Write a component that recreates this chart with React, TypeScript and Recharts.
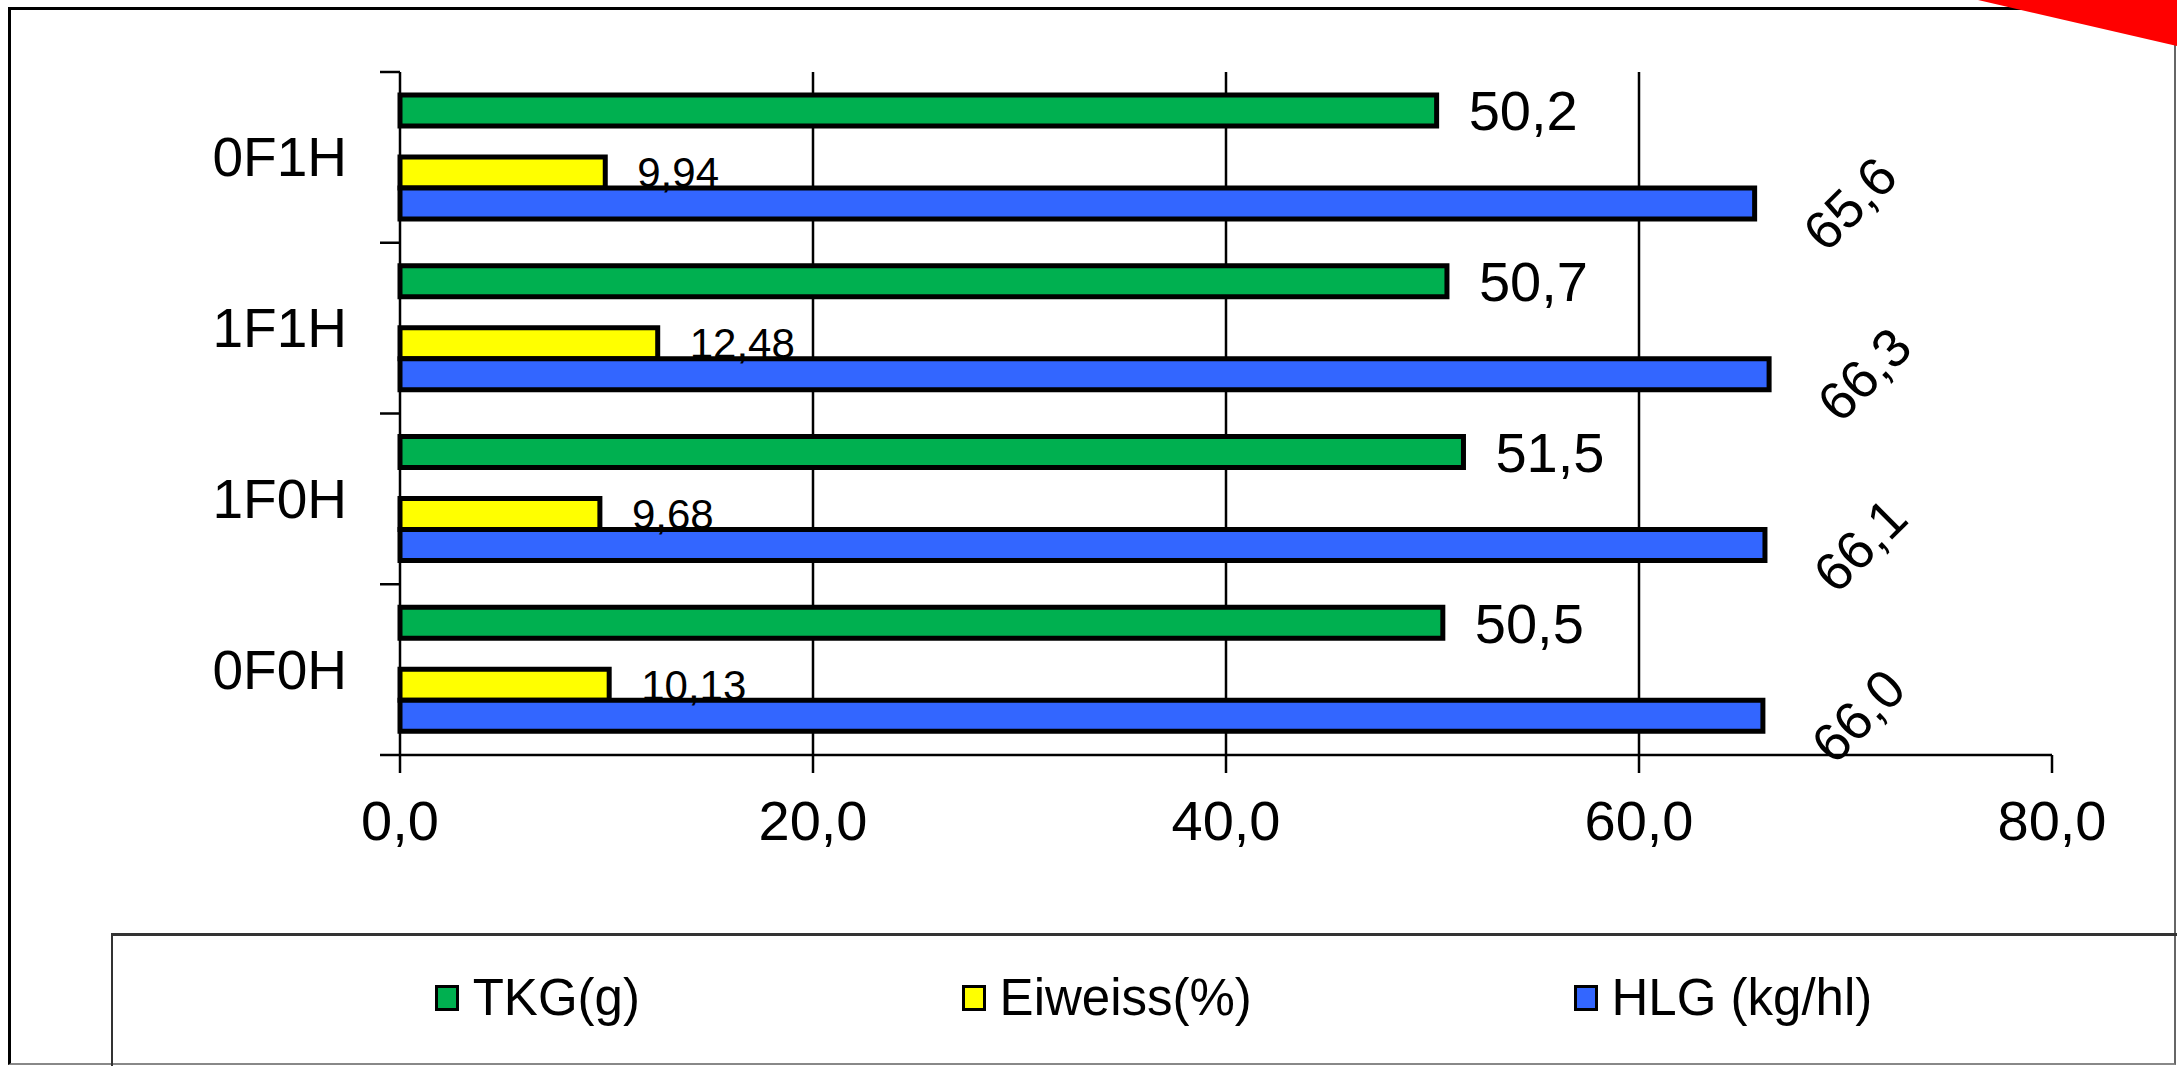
import React from 'react'
import { Bar, BarChart, CartesianGrid, LabelList, XAxis, YAxis } from 'recharts'

const categories = ['0F1H', '1F1H', '1F0H', '0F0H']
const tkg = [50.2, 50.7, 51.5, 50.5]
const eiweiss = [9.94, 12.48, 9.68, 10.13]
const hlg = [65.6, 66.3, 66.1, 66.0]
const xTicks = [0, 20, 40, 60, 80]
const gridX = [20, 40, 60]

const series = [
  { key: 'tkg', name: 'TKG(g)', color: '#00B050' },
  { key: 'eiweiss', name: 'Eiweiss(%)', color: '#FFFF00' },
  { key: 'hlg', name: 'HLG (kg/hl)', color: '#3366FF' },
]

const rows = categories.map((name, i) => ({ name, tkg: tkg[i], eiweiss: eiweiss[i], hlg: hlg[i] }))

const FONT = '"Liberation Sans", Arial, sans-serif'
const W = 2177
const H = 1066
const Y_TICK = 20
const Y_MARGIN = 33

const fmt = (digits: number) => (v: any) => Number(v).toFixed(digits).replace('.', ',')

function CategoryTick(props: any) {
  const { x, y, payload, index } = props
  const axisX = x + Y_TICK + Y_MARGIN
  const half = payload.offset ?? 85
  const last = index === categories.length - 1
  return (
    <g>
      <line x1={axisX - Y_TICK} x2={axisX} y1={y - half} y2={y - half} stroke="#000" strokeWidth={2.5} />
      {last && <line x1={axisX - Y_TICK} x2={axisX} y1={y + half} y2={y + half} stroke="#000" strokeWidth={2.5} />}
      <text x={x} y={y} textAnchor="end" dominantBaseline="central" fontSize={55} fontFamily={FONT} fill="#000">
        {payload.value}
      </text>
    </g>
  )
}

function RotatedLabel(props: any) {
  const { x, y, width, height, value } = props
  const cx = x + width + 95
  const cy = y + height / 2
  return (
    <text
      x={cx}
      y={cy}
      transform={`rotate(-45 ${cx} ${cy})`}
      textAnchor="middle"
      dominantBaseline="central"
      fontSize={54}
      fontFamily={FONT}
      fill="#000"
    >
      {fmt(1)(value)}
    </text>
  )
}

export default function App() {
  return (
    <div style={{ position: 'absolute', left: 0, top: 0, width: W, height: H, overflow: 'hidden', background: '#fff', fontFamily: FONT }}>
      <div
        style={{
          position: 'absolute',
          left: 8,
          top: 7,
          width: 2168,
          height: 1058,
          boxSizing: 'border-box',
          borderTop: '3px solid #000',
          borderLeft: '3px solid #000',
          borderRight: '2px solid #666',
          borderBottom: '2px solid #888',
        }}
      />
      <div style={{ position: 'absolute', left: 0, top: 0 }}>
        <BarChart
          width={W}
          height={H}
          data={rows}
          layout="vertical"
          margin={{ top: 72, right: 125, bottom: 251, left: 100 }}
          barCategoryGap={23}
          barGap={0}
        >
          <CartesianGrid horizontal={false} verticalValues={gridX} stroke="#000" strokeWidth={2.5} />
          <XAxis
            type="number"
            domain={[0, 80]}
            ticks={xTicks}
            tickFormatter={fmt(1)}
            height={60}
            tickSize={18}
            tickMargin={27}
            axisLine={{ stroke: '#000', strokeWidth: 2.5 }}
            tickLine={{ stroke: '#000', strokeWidth: 2.5 }}
            tick={{ fontSize: 56, fill: '#000', fontFamily: FONT }}
          />
          <YAxis
            type="category"
            dataKey="name"
            width={300}
            tickSize={Y_TICK}
            tickMargin={Y_MARGIN}
            tickLine={false}
            axisLine={{ stroke: '#000', strokeWidth: 2.5 }}
            tick={<CategoryTick />}
          />
          <Bar dataKey="tkg" fill="#00B050" stroke="#000" strokeWidth={5} isAnimationActive={false}>
            <LabelList dataKey="tkg" position="right" offset={32} formatter={fmt(1)} fontSize={56} fontFamily={FONT} fill="#000" />
          </Bar>
          {/* empty slot between TKG and the two lower series */}
          <Bar dataKey="spacer" legendType="none" isAnimationActive={false} />
          <Bar dataKey="eiweiss" fill="#FFFF00" stroke="#000" strokeWidth={5} isAnimationActive={false}>
            <LabelList dataKey="eiweiss" position="right" offset={32} formatter={fmt(2)} fontSize={42} fontFamily={FONT} fill="#000" />
          </Bar>
          <Bar dataKey="hlg" fill="#3366FF" stroke="#000" strokeWidth={5} isAnimationActive={false}>
            <LabelList dataKey="hlg" content={<RotatedLabel />} />
          </Bar>
        </BarChart>
      </div>
      <div
        style={{
          position: 'absolute',
          left: 111,
          top: 933,
          width: 2083,
          height: 200,
          boxSizing: 'border-box',
          borderTop: '3px solid #333',
          borderLeft: '2px solid #333',
          display: 'flex',
          justifyContent: 'space-evenly',
          alignItems: 'flex-start',
          paddingTop: 36,
        }}
      >
        {series.map((s) => (
          <div key={s.key} style={{ display: 'flex', alignItems: 'center', height: 51, lineHeight: '51px', fontSize: 51, color: '#000' }}>
            <span style={{ width: 24, height: 26, boxSizing: 'border-box', border: '3px solid #000', background: s.color, marginRight: 14 }} />
            <span>{s.name}</span>
          </div>
        ))}
      </div>
      <svg style={{ position: 'absolute', left: 0, top: 0 }} width={W} height={H} pointerEvents="none">
        <polygon points="1978,0 2177,0 2177,46" fill="#FF0000" />
      </svg>
    </div>
  )
}
